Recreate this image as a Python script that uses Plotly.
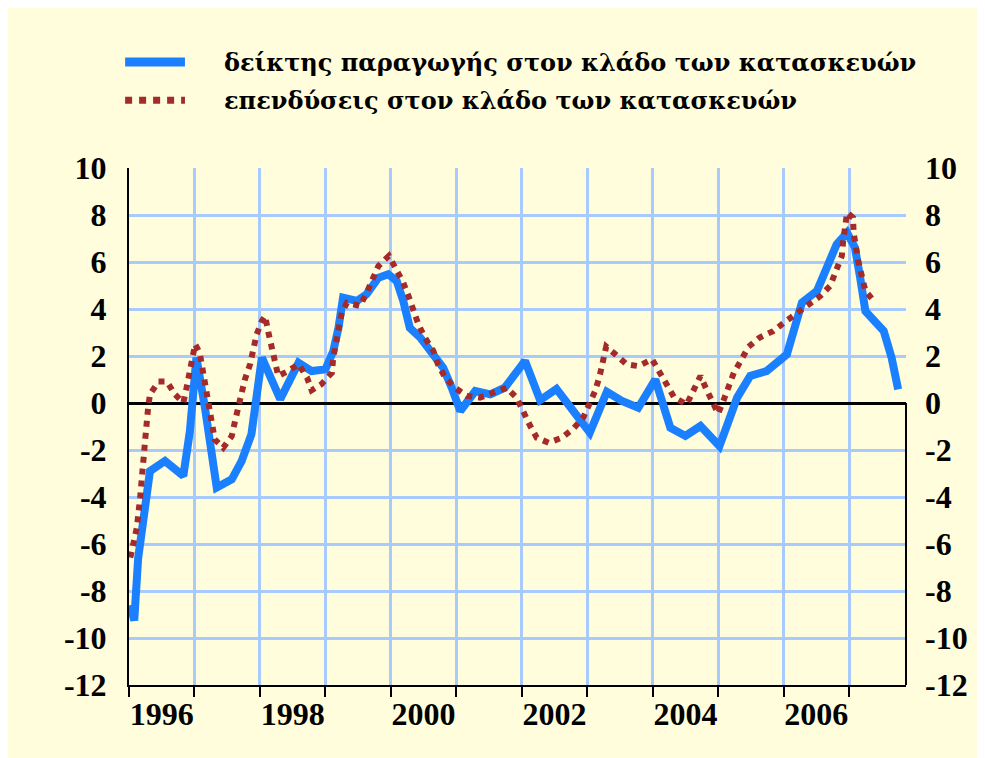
import plotly.graph_objects as go

# --- data (decimal years) ---
prod_x = [1996.02, 1996.08, 1996.14, 1996.24, 1996.32, 1996.55, 1996.83, 1996.93, 1997.03,
          1997.16, 1997.34, 1997.57, 1997.72, 1997.87, 1998.03, 1998.31, 1998.59, 1998.79,
          1999.00, 1999.12, 1999.20, 1999.27, 1999.48, 1999.63, 1999.81, 1999.96, 2000.09,
          2000.19, 2000.29, 2000.45, 2000.62, 2000.80, 2000.93, 2001.06, 2001.29, 2001.52,
          2001.74, 2001.97, 2002.05, 2002.28, 2002.53, 2002.79, 2003.04, 2003.30, 2003.53,
          2003.78, 2004.04, 2004.27, 2004.50, 2004.73, 2005.02, 2005.16, 2005.29, 2005.49,
          2005.74, 2006.05, 2006.15, 2006.28, 2006.51, 2006.66, 2006.81, 2006.97, 2007.09,
          2007.17, 2007.25, 2007.53, 2007.65, 2007.75]
prod_y = [-8.6, -9.25, -6.6, -4.45, -2.9, -2.47, -3.1, -1.2, 1.93,
          -0.2, -3.6, -3.25, -2.47, -1.33, 1.93, 0.16, 1.71, 1.36,
          1.43, 2.2, 3.2, 4.48, 4.34, 4.63, 5.33, 5.48, 5.19,
          4.34, 3.2, 2.78, 2.21, 1.5, 0.65, -0.34, 0.51, 0.37,
          0.65, 1.6, 1.79, 0.12, 0.6, -0.35, -1.26, 0.48, 0.09,
          -0.2, 1.0, -1.05, -1.4, -0.98, -1.83, -0.77, 0.23, 1.15,
          1.36, 2.07, 3.06, 4.27, 4.77, 5.76, 6.75, 7.25, 6.61,
          5.33, 3.91, 3.06, 1.93, 0.58]

inv_x = [1996.02, 1996.12, 1996.17, 1996.22, 1996.25, 1996.29, 1996.32, 1996.45, 1996.58,
         1996.70, 1996.83, 1996.88, 1996.93, 1996.98, 1997.01, 1997.08, 1997.16, 1997.21,
         1997.24, 1997.29, 1997.31, 1997.44, 1997.57, 1997.62, 1997.67, 1997.72, 1997.77,
         1997.85, 1997.90, 1997.95, 1998.03, 1998.08, 1998.13, 1998.18, 1998.23, 1998.28,
         1998.41, 1998.59, 1998.72, 1998.79, 1998.94, 1999.10, 1999.12, 1999.16, 1999.21,
         1999.25, 1999.33, 1999.53, 1999.63, 1999.71, 1999.81, 1999.97, 2000.09, 2000.19,
         2000.27, 2000.34, 2000.42, 2000.52, 2000.65, 2000.72, 2000.83, 2000.98, 2001.16,
         2001.36, 2001.57, 2001.77, 2001.92, 2002.02, 2002.13, 2002.23, 2002.41, 2002.61,
         2002.79, 2002.94, 2003.04, 2003.12, 2003.19, 2003.25, 2003.29, 2003.43, 2003.60,
         2003.78, 2003.99, 2004.11, 2004.22, 2004.33, 2004.52, 2004.62, 2004.73, 2004.81,
         2004.90, 2005.00, 2005.08, 2005.16, 2005.24, 2005.36, 2005.46, 2005.63, 2005.84,
         2006.02, 2006.20, 2006.38, 2006.56, 2006.71, 2006.81, 2006.89, 2006.91, 2006.94,
         2006.97, 2007.06, 2007.07, 2007.14, 2007.19, 2007.25, 2007.38]
inv_y = [-6.58, -5.3, -4.03, -2.75, -1.48, -0.27, 0.37, 0.91, 0.91,
         0.37, 0.01, 0.65, 1.36, 2.0, 2.5, 2.14, 0.94, 0.23,
         -0.34, -0.98, -1.55, -1.9, -1.4, -0.77, -0.2, 0.44, 1.0,
         1.65, 2.29, 2.92, 3.49, 3.7, 2.99, 2.43, 1.79, 1.15,
         1.33, 1.65, 1.08, 0.54, 0.8, 1.29, 1.93, 2.57, 3.2,
         3.84, 4.27, 4.13, 4.69, 5.26, 5.83, 6.26, 5.69, 5.12,
         4.55, 3.91, 3.35, 2.78, 2.21, 1.65, 1.08, 0.65, 0.3,
         0.23, 0.44, 0.65, 0.23, -0.41, -0.98, -1.48, -1.69, -1.48,
         -1.09, -0.62, -0.06, 0.51, 1.15, 1.79, 2.4, 2.07, 1.65,
         1.57, 1.86, 1.29, 0.72, 0.23, -0.06, 0.51, 1.15, 0.65,
         0.09, -0.45, 0.09, 0.72, 1.29, 1.86, 2.38, 2.78, 3.06,
         3.45, 3.8, 4.2, 4.55, 4.98, 5.62, 6.26, 6.89, 7.53,
         8.1, 7.89, 7.25, 6.04, 5.33, 4.77, 4.34]

series_names = ["δείκτης παραγωγής στον κλάδο των κατασκευών",
                "επενδύσεις στον κλάδο των κατασκευών"]

year_ticks = list(range(1996, 2008))
label_years = [1996, 1998, 2000, 2002, 2004, 2006]
y_ticks = list(range(-12, 11, 2))

BLUE = "#1A80FF"
RED = "#A52A2A"
BG = "#FFFDDC"
GRID = "#A8CBFF"
FONT = "Liberation Serif"
LEG_FONT = "DejaVu Serif"

fig = go.Figure()
fig.add_trace(go.Scatter(x=prod_x, y=prod_y, mode="lines", name=series_names[0],
                         line=dict(color=BLUE, width=8), yaxis="y", showlegend=False))
fig.add_trace(go.Scatter(x=inv_x, y=inv_y, mode="lines", name=series_names[1],
                         line=dict(color=RED, width=6, dash="dot"), yaxis="y2", showlegend=False))

tickfont = dict(family=FONT, size=32, color="black", weight="bold")

fig.update_layout(
    width=985, height=758,
    margin=dict(l=121, r=87, t=160, b=81),
    paper_bgcolor=BG, plot_bgcolor=BG,
    xaxis=dict(range=[1996, 2007.87], tickmode="array",
               tickvals=[y + 0.5 for y in label_years], ticktext=[str(y) for y in label_years],
               ticks="", showgrid=False, zeroline=False,
               showline=True, linecolor="black", linewidth=2,
               tickfont=tickfont,
               minor=dict(tickmode="array", tickvals=year_ticks, ticks="outside", ticklen=10,
                          tickwidth=2, tickcolor="black", showgrid=True, gridcolor=GRID, gridwidth=3)),
    yaxis=dict(range=[-12, 10], tickmode="array", tickvals=y_ticks,
               ticktext=[str(v) for v in y_ticks], ticks="", showgrid=True, gridcolor=GRID,
               gridwidth=3, zeroline=True, zerolinecolor="black", zerolinewidth=3,
               showline=True, linecolor="black", linewidth=2, tickfont=tickfont,
               ticklabelstandoff=14),
    yaxis2=dict(range=[-12, 10], overlaying="y", side="right", tickmode="array",
                tickvals=y_ticks, ticktext=[str(v) for v in y_ticks], ticks="",
                showgrid=False, zeroline=False, showline=False, tickfont=tickfont,
                ticklabelstandoff=18),
)

# right-hand border below the zero line
fig.add_shape(type="line", xref="paper", yref="y", x0=1, x1=1, y0=-12, y1=0,
              line=dict(color="black", width=2))

# legend (manual)
leg_y = [1.205, 1.131]
fig.add_shape(type="line", xref="paper", yref="paper", x0=-0.005, x1=0.072,
              y0=leg_y[0], y1=leg_y[0], line=dict(color=BLUE, width=9))
fig.add_shape(type="line", xref="paper", yref="paper", x0=-0.005, x1=0.072,
              y0=leg_y[1], y1=leg_y[1], line=dict(color=RED, width=7, dash="dot"))
for name, ly in zip(series_names, leg_y):
    fig.add_annotation(text=name, xref="paper", yref="paper", x=0.1197, y=ly,
                       xanchor="left", yanchor="middle", showarrow=False,
                       font=dict(family=LEG_FONT, size=24, color="black", weight="bold"))

fig.write_html("out.html")
